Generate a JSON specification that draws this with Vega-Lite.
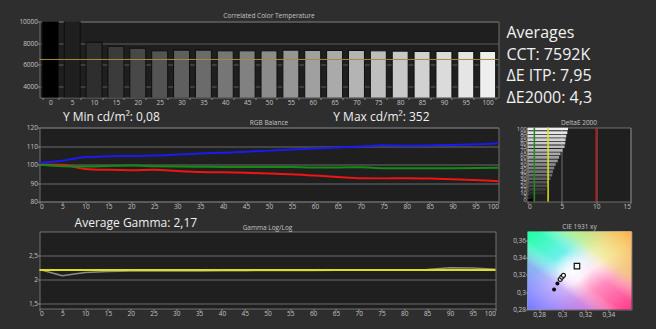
{
  "$schema": "https://vega.github.io/schema/vega-lite/v6.json",
  "background": "#2e2e2e",
  "padding": {"left": 17.5, "top": 12.5, "right": 23, "bottom": 10.5},
  "datasets": {
    "levels": [
      {"level":0,"cct":10000,"r":100,"g":100,"b":101,"de":0.8,"gamma":2.21},
      {"level":5,"cct":10000,"r":99.8,"g":99.1,"b":102,"de":1.8,"gamma":2.08},
      {"level":10,"cct":8090,"r":97.6,"g":98.9,"b":104,"de":2.6,"gamma":2.15},
      {"level":15,"cct":7720,"r":97.1,"g":99.2,"b":104.4,"de":2.7,"gamma":2.17},
      {"level":20,"cct":7540,"r":96.9,"g":99.4,"b":104.6,"de":2.85,"gamma":2.18},
      {"level":25,"cct":7300,"r":97.1,"g":99.1,"b":104.8,"de":3.0,"gamma":2.18},
      {"level":30,"cct":7360,"r":96.5,"g":98.9,"b":105.4,"de":3.35,"gamma":2.18},
      {"level":35,"cct":7360,"r":96.0,"g":98.8,"b":106.0,"de":3.6,"gamma":2.18},
      {"level":40,"cct":7300,"r":95.8,"g":98.7,"b":106.4,"de":3.7,"gamma":2.185},
      {"level":45,"cct":7300,"r":95.5,"g":98.7,"b":106.9,"de":3.9,"gamma":2.185},
      {"level":50,"cct":7300,"r":95.1,"g":98.7,"b":107.5,"de":4.1,"gamma":2.19},
      {"level":55,"cct":7360,"r":94.7,"g":98.6,"b":108.1,"de":4.4,"gamma":2.19},
      {"level":60,"cct":7340,"r":94.0,"g":98.4,"b":108.6,"de":4.6,"gamma":2.19},
      {"level":65,"cct":7330,"r":93.3,"g":98.4,"b":109.2,"de":4.8,"gamma":2.195},
      {"level":70,"cct":7330,"r":92.6,"g":98.5,"b":109.7,"de":5.1,"gamma":2.2},
      {"level":75,"cct":7300,"r":92.5,"g":98.0,"b":110.4,"de":5.4,"gamma":2.2},
      {"level":80,"cct":7270,"r":92.6,"g":98.0,"b":110.1,"de":5.5,"gamma":2.2},
      {"level":85,"cct":7240,"r":92.4,"g":98.0,"b":110.3,"de":5.55,"gamma":2.21},
      {"level":90,"cct":7240,"r":92.0,"g":98.0,"b":110.6,"de":5.65,"gamma":2.245},
      {"level":95,"cct":7240,"r":91.6,"g":98.1,"b":110.9,"de":5.8,"gamma":2.24},
      {"level":100,"cct":7240,"r":90.9,"g":98.3,"b":111.5,"de":5.9,"gamma":2.215}
    ],
    "averages": [
      {"line":1,"col":0,"label":"Averages"},
      {"line":2,"col":0,"label":"CCT: 7592K"},
      {"line":3,"col":0,"label":"ΔE ITP: 7,95"},
      {"line":4,"col":0,"label":"ΔE2000: 4,3"}
    ],
    "rgbNotes": [
      {"x":5.1,"y":123.6,"label":"Y Min cd/m²: 0,08"},
      {"x":64,"y":123.6,"label":"Y Max cd/m²: 352"}
    ],
    "gammaNotes": [
      {"x":7.7,"y":3.085,"label":"Average Gamma: 2,17"}
    ],
    "cie": [
      {"x":0.2930,"y":0.3031,"kind":"filled"},
      {"x":0.2959,"y":0.3101,"kind":"filled"},
      {"x":0.2983,"y":0.3147,"kind":"open"},
      {"x":0.2997,"y":0.3173,"kind":"open"},
      {"x":0.3011,"y":0.3193,"kind":"open"},
      {"x":0.3128,"y":0.3300,"kind":"target"}
    ]
  },
  "config": {
    "font": "Open Sans",
    "view": {"fill": "#1f1f1f", "stroke": "#707070", "strokeWidth": 1},
    "axis": {
      "domain": false,
      "labelColor": "#c4c4c4",
      "labelFontSize": 6.5,
      "labelFont": "Open Sans",
      "labelOverlap": false,
      "tickColor": "#8a8a8a",
      "tickSize": 2,
      "labelPadding": 0,
      "gridColor": "#5c5c5c",
      "gridWidth": 1
    },
    "title": {"fontSize": 6.5, "fontWeight": "normal", "color": "#c4c4c4", "offset": 2, "font": "Open Sans", "frame": "group"}
  },
  "columns": 2,
  "spacing": {"row": 30, "column": 29},
  "bounds": "flush",
  "concat": [
    {
      "width": 459,
      "height": 76,
      "title": {"text": "Correlated Color Temperature", "frame": "group", "offset": -1},
      "layer": [
        {
          "data": {"name": "levels"},
          "mark": {"type": "bar", "stroke": "#0e0e0e", "strokeWidth": 1, "clip": true},
          "encoding": {
            "x": {"field": "level", "type": "ordinal", "title": null,
                  "scale": {"paddingInner": 0.27, "paddingOuter": 0.13},
                  "axis": {"labelAngle": 0, "tickBand": "extent", "grid": false, "labelOverlap": false}},
            "y": {"field": "cct", "type": "quantitative", "title": null,
                  "scale": {"domain": [3000, 10000], "zero": false, "nice": false},
                  "axis": {"values": [4000, 6000, 8000, 10000], "tickCount": 100, "grid": true, "format": "d", "labelOverlap": false}},
            "color": {"field": "level", "type": "quantitative", "legend": null,
                      "scale": {"type": "pow", "exponent": 0.7, "domain": [0, 100], "range": ["#000000", "#eeeeee"]}}
          }
        },
        {
          "data": {"values": [{}]},
          "mark": {"type": "rule", "color": "#a88a3c", "strokeWidth": 1},
          "encoding": {"y": {"datum": 6504}}
        }
      ]
    },
    {
      "width": 100,
      "height": 76,
      "view": {"stroke": null, "fill": null},
      "data": {"name": "averages"},
      "mark": {"type": "text", "align": "left", "baseline": "alphabetic", "fontSize": 16, "color": "#f2f2f2", "font": "Open Sans"},
      "encoding": {
        "x": {"field": "col", "type": "quantitative", "scale": {"domain": [0.21, 1.21], "nice": false, "zero": false}, "axis": null},
        "y": {"field": "line", "type": "quantitative", "scale": {"domain": [0.252, 3.738], "reverse": true, "nice": false, "zero": false}, "axis": null},
        "text": {"field": "label"}
      }
    },
    {
      "width": 459,
      "height": 74,
      "layer": [
        {
          "data": {"name": "levels"},
          "transform": [{"fold": ["r", "g", "b"], "as": ["ch", "val"]}],
          "mark": {"type": "line", "strokeWidth": 2, "interpolate": "monotone"},
          "encoding": {
            "x": {"field": "level", "type": "quantitative", "title": null,
                  "scale": {"domain": [0, 100], "nice": false},
                  "axis": {"values": [0,5,10,15,20,25,30,35,40,45,50,55,60,65,70,75,80,85,90,95,100], "tickCount": 100, "format": "d", "grid": false, "labelOverlap": false}},
            "y": {"field": "val", "type": "quantitative", "title": null,
                  "scale": {"domain": [80, 120], "nice": false, "zero": false},
                  "axis": {"values": [80, 90, 100, 110, 120], "tickCount": 100, "format": "d", "grid": true, "gridColor": "#6a6a6a", "labelOverlap": false}},
            "stroke": {"field": "ch", "type": "nominal", "legend": null,
                       "scale": {"domain": ["r", "g", "b"], "range": ["#f01414", "#148c14", "#1a1af2"]}}
          }
        },
        {
          "data": {"values": [{"label": "RGB Balance"}]},
          "mark": {"type": "text", "fontSize": 6.5, "color": "#c4c4c4", "baseline": "middle", "align": "center"},
          "encoding": {"x": {"datum": 50}, "y": {"datum": 122.4}, "text": {"field": "label"}}
        },
        {
          "data": {"name": "rgbNotes"},
          "mark": {"type": "text", "align": "left", "baseline": "alphabetic", "fontSize": 12, "color": "#f0f0f0"},
          "encoding": {
            "x": {"field": "x", "type": "quantitative"},
            "y": {"field": "y", "type": "quantitative"},
            "text": {"field": "label"}
          }
        }
      ]
    },
    {
      "width": 103,
      "height": 74,
      "title": {"text": "DeltaE 2000", "frame": "group", "offset": -1},
      "layer": [
        {
          "data": {"name": "levels"},
          "mark": {"type": "bar"},
          "encoding": {
            "y": {"field": "level", "type": "ordinal", "sort": "descending", "title": null,
                  "scale": {"paddingInner": 0.25, "paddingOuter": 0.05},
                  "axis": {"tickSize": 0, "labelPadding": 1, "labelFontSize": 6, "labelOverlap": false,
                           "labelExpr": "datum.value % 10 == 5 ? datum.label + '\u00a0\u00a0' : datum.label"}},
            "x": {"field": "de", "type": "quantitative", "title": null,
                  "scale": {"domain": [0, 15], "nice": false},
                  "axis": {"values": [0, 5, 10, 15], "tickCount": 100, "format": "d", "grid": true, "gridColor": "#707070", "labelOverlap": false}},
            "color": {"field": "level", "type": "quantitative", "legend": null,
                      "scale": {"type": "pow", "exponent": 0.7, "domain": [0, 100], "range": ["#000000", "#eeeeee"]}}
          }
        },
        {
          "data": {"values": [{}]},
          "mark": {"type": "rule", "color": "#1c8c1c", "strokeWidth": 1.5},
          "encoding": {"x": {"datum": 1}}
        },
        {
          "data": {"values": [{}]},
          "mark": {"type": "rule", "color": "#e6e020", "strokeWidth": 1.5},
          "encoding": {"x": {"datum": 3}}
        },
        {
          "data": {"values": [{}]},
          "mark": {"type": "rule", "color": "#c81818", "strokeWidth": 1.5},
          "encoding": {"x": {"datum": 10}}
        }
      ]
    },
    {
      "width": 456,
      "height": 77,
      "layer": [
        {
          "data": {"name": "levels"},
          "mark": {"type": "line", "color": "#8c8c8c", "strokeWidth": 1.5},
          "encoding": {
            "x": {"field": "level", "type": "quantitative", "title": null,
                  "scale": {"domain": [0, 100], "nice": false},
                  "axis": {"values": [0,5,10,15,20,25,30,35,40,45,50,55,60,65,70,75,80,85,90,95,100], "tickCount": 100, "format": "d", "grid": false, "labelOverlap": false}},
            "y": {"field": "gamma", "type": "quantitative", "title": null,
                  "scale": {"domain": [1.4, 3.0], "nice": false, "zero": false},
                  "axis": {"values": [1.5, 2, 2.5], "tickCount": 100, "grid": true, "gridColor": "#6a6a6a", "labelOverlap": false,
                           "labelExpr": "replace(format(datum.value, '~g'), '.', ',')"}}
          }
        },
        {
          "data": {"values": [{}]},
          "mark": {"type": "rule", "color": "#e0dc1e", "strokeWidth": 2},
          "encoding": {"y": {"datum": 2.2}}
        },
        {
          "data": {"values": [{"label": "Gamma Log/Log"}]},
          "mark": {"type": "text", "fontSize": 6.5, "color": "#c4c4c4", "baseline": "middle", "align": "center"},
          "encoding": {"x": {"datum": 50}, "y": {"datum": 3.08}, "text": {"field": "label"}}
        },
        {
          "data": {"name": "gammaNotes"},
          "mark": {"type": "text", "align": "left", "baseline": "alphabetic", "fontSize": 12, "color": "#f0f0f0"},
          "encoding": {
            "x": {"field": "x", "type": "quantitative"},
            "y": {"field": "y", "type": "quantitative"},
            "text": {"field": "label"}
          }
        }
      ]
    },
    {
      "width": 104,
      "height": 78,
      "layer": [
        {
          "data": {"values": [{}]},
          "mark": {"type": "rect", "fill": {"gradient": "linear", "x1": 0, "y1": 0, "x2": 1, "y2": 1,
                    "stops": [{"offset": 0, "color": "#20ffa0"}, {"offset": 0.3, "color": "#6af0ea"}, {"offset": 0.45, "color": "#e6f0ff"}, {"offset": 0.55, "color": "#ffe6f4"}, {"offset": 0.7, "color": "#ff8cbe"}, {"offset": 1, "color": "#ff3c88"}]}},
          "encoding": {
            "x": {"datum": 0.27, "type": "quantitative", "scale": {"domain": [0.27, 0.36], "nice": false, "zero": false},
                  "axis": {"values": [0.28, 0.3, 0.32, 0.34], "tickCount": 100, "grid": false, "title": null, "labelOverlap": false,
                           "labelExpr": "replace(format(datum.value, '~g'), '.', ',')"}},
            "x2": {"datum": 0.36},
            "y": {"datum": 0.28, "type": "quantitative", "scale": {"domain": [0.28, 0.37], "nice": false, "zero": false},
                  "axis": {"values": [0.28, 0.3, 0.32, 0.34, 0.36], "tickCount": 100, "grid": false, "title": null, "labelOverlap": false,
                           "labelExpr": "replace(format(datum.value, '~g'), '.', ',')"}},
            "y2": {"datum": 0.37}
          }
        },
        {
          "data": {"values": [{}]},
          "mark": {"type": "rect", "fill": {"gradient": "linear", "x1": 1, "y1": 0, "x2": 0, "y2": 1,
                    "stops": [{"offset": 0, "color": "rgba(255,172,78,1)"}, {"offset": 0.3, "color": "rgba(238,240,110,0.6)"}, {"offset": 0.45, "color": "rgba(255,255,255,0)"}, {"offset": 0.55, "color": "rgba(255,255,255,0)"}, {"offset": 0.7, "color": "rgba(170,140,255,0.6)"}, {"offset": 1, "color": "rgba(110,120,255,1)"}]}},
          "encoding": {"x": {"datum": 0.27}, "x2": {"datum": 0.36}, "y": {"datum": 0.28}, "y2": {"datum": 0.37}}
        },
        {
          "data": {"values": [{}]},
          "mark": {"type": "rect", "fill": {"gradient": "radial", "x1": 0.44, "y1": 0.5, "r1": 0, "x2": 0.44, "y2": 0.5, "r2": 0.18,
                    "stops": [{"offset": 0, "color": "rgba(255,255,255,0.9)"}, {"offset": 1, "color": "rgba(255,255,255,0)"}]}},
          "encoding": {"x": {"datum": 0.27}, "x2": {"datum": 0.36}, "y": {"datum": 0.28}, "y2": {"datum": 0.37}}
        },
        {
          "data": {"values": [{"label": "CIE 1931 xy"}]},
          "mark": {"type": "text", "fontSize": 6.5, "color": "#c4c4c4", "baseline": "middle", "align": "center"},
          "encoding": {"x": {"datum": 0.315}, "y": {"datum": 0.375}, "text": {"field": "label"}}
        },
        {
          "data": {"name": "cie"},
          "transform": [{"filter": "datum.kind == 'open'"}],
          "mark": {"type": "point", "shape": "circle", "filled": false, "fill": "#ffffff", "stroke": "#111111", "strokeWidth": 1.2, "size": 16, "opacity": 1},
          "encoding": {"x": {"field": "x", "type": "quantitative"}, "y": {"field": "y", "type": "quantitative"}}
        },
        {
          "data": {"name": "cie"},
          "transform": [{"filter": "datum.kind == 'filled'"}],
          "mark": {"type": "circle", "color": "#0a0a0a", "size": 16, "opacity": 1},
          "encoding": {"x": {"field": "x", "type": "quantitative"}, "y": {"field": "y", "type": "quantitative"}}
        },
        {
          "data": {"name": "cie"},
          "transform": [{"filter": "datum.kind == 'target'"}],
          "mark": {"type": "square", "filled": false, "stroke": "#111111", "strokeWidth": 1.2, "size": 30, "opacity": 1},
          "encoding": {"x": {"field": "x", "type": "quantitative"}, "y": {"field": "y", "type": "quantitative"}}
        }
      ]
    }
  ]
}
